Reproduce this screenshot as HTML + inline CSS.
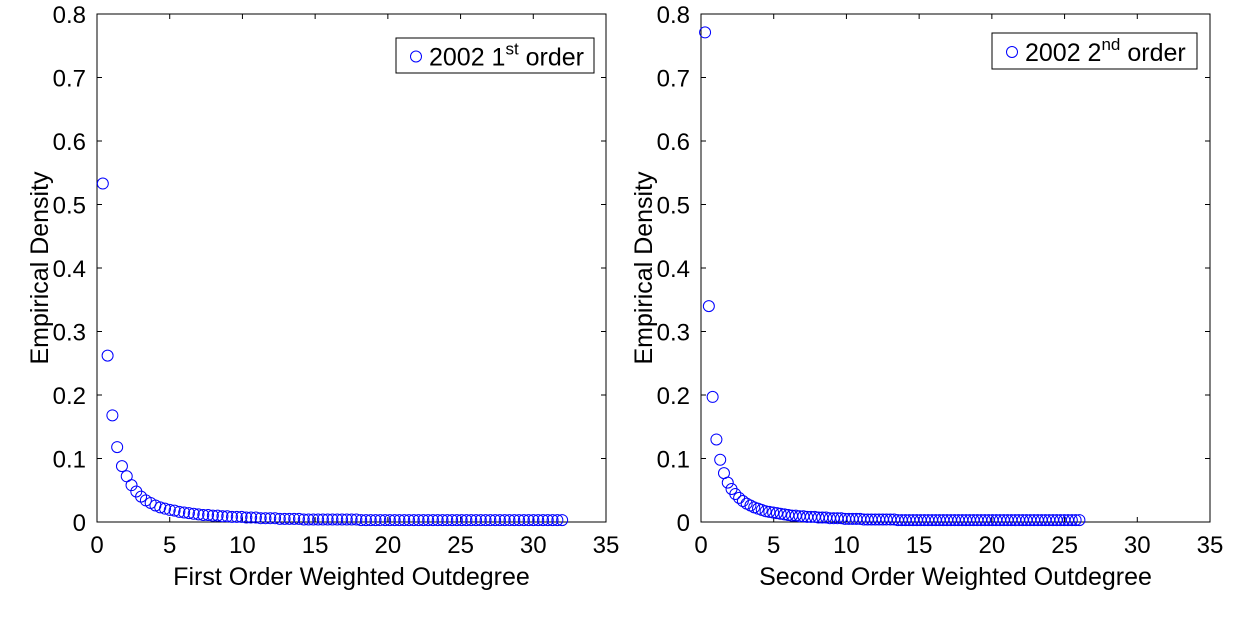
<!DOCTYPE html>
<html><head><meta charset="utf-8"><style>
body{margin:0;background:#fff;width:1254px;height:614px;overflow:hidden}
text{font-family:"Liberation Sans",Arial,sans-serif;fill:#000}
</style></head><body>
<svg id="svg" width="1254" height="614" xmlns="http://www.w3.org/2000/svg"></svg>
<script>
const xTicks=[0,5,10,15,20,25,30,35];
const yTicks=[0,0.1,0.2,0.3,0.4,0.5,0.6,0.7,0.8];
const yTickLabels=["0","0.1","0.2","0.3","0.4","0.5","0.6","0.7","0.8"];
const leftStart=0.4, leftStep=0.329;
const leftValues=[0.533,0.262,0.168,0.118,0.088,0.072,0.058,0.048,0.040,0.034,0.030,0.026,0.023,0.021,0.019,0.018,0.016,0.015,0.014,0.013,0.012,0.011,0.011,0.010,0.010,0.009,0.009,0.008,0.008,0.008,0.007,0.007,0.007,0.006,0.006,0.006,0.006,0.005,0.005,0.005,0.005,0.005,0.004,0.004,0.004,0.004,0.004,0.004,0.004,0.004,0.004,0.004,0.004,0.004,0.003,0.003,0.003,0.003,0.003,0.003,0.003,0.003,0.003,0.003,0.003,0.003,0.003,0.003,0.003,0.003,0.003,0.003,0.003,0.003,0.003,0.003,0.003,0.003,0.003,0.003,0.003,0.003,0.003,0.003,0.003,0.003,0.003,0.003,0.003,0.003,0.003,0.003,0.003,0.003,0.003,0.003,0.003];
const rightStart=0.28, rightStep=0.26;
const rightValues=[0.771,0.340,0.197,0.130,0.098,0.077,0.062,0.052,0.044,0.038,0.033,0.029,0.026,0.023,0.021,0.019,0.017,0.016,0.015,0.014,0.013,0.012,0.011,0.010,0.010,0.009,0.009,0.008,0.008,0.008,0.007,0.007,0.007,0.006,0.006,0.006,0.006,0.005,0.005,0.005,0.005,0.005,0.004,0.004,0.004,0.004,0.004,0.004,0.004,0.004,0.004,0.003,0.003,0.003,0.003,0.003,0.003,0.003,0.003,0.003,0.003,0.003,0.003,0.003,0.003,0.003,0.003,0.003,0.003,0.003,0.003,0.003,0.003,0.003,0.003,0.003,0.003,0.003,0.003,0.003,0.003,0.003,0.003,0.003,0.003,0.003,0.003,0.003,0.003,0.003,0.003,0.003,0.003,0.003,0.003,0.003,0.003,0.003,0.003,0.003];
const svg=document.getElementById('svg');
const NS='http://www.w3.org/2000/svg';
function mk(tag,attrs,parent){const e=document.createElementNS(NS,tag);for(const k in attrs)e.setAttribute(k,attrs[k]);(parent||svg).appendChild(e);return e;}
function panel(x0,x1,y0,y1,xlabel,start,step,vals,legend,name){
  const g=mk('g',{});
  
  
  const sx=v=>x0+(v/35)*(x1-x0), sy=v=>y1-(v/0.8)*(y1-y0);
  const box=mk('rect',{x:x0,y:y0,width:x1-x0,height:y1-y0,fill:'none',stroke:'#000','stroke-width':1},g);
  
  
  xTicks.forEach(t=>{
    const X=sx(t);
    mk('line',{x1:X,x2:X,y1:y1,y2:y1-5,stroke:'#000'},g);
    mk('line',{x1:X,x2:X,y1:y0,y2:y0+5,stroke:'#000'},g);
    const tx=mk('text',{x:X,y:y1+31,'font-size':24,'text-anchor':'middle'},g);
    tx.textContent=t;
    
    
  });
  yTicks.forEach((t,i)=>{
    const Y=sy(t);
    mk('line',{x1:x0,x2:x0+5,y1:Y,y2:Y,stroke:'#000'},g);
    mk('line',{x1:x1,x2:x1-5,y1:Y,y2:Y,stroke:'#000'},g);
    const tx=mk('text',{x:x0-11,y:Y+9,'font-size':24,'text-anchor':'end'},g);
    tx.textContent=yTickLabels[i];
    
    
  });
  const xl=mk('text',{x:(x0+x1)/2,y:y1+63,'font-size':25,'text-anchor':'middle'},g);
  xl.textContent=xlabel;
  
  
  const yl=mk('text',{x:0,y:0,'font-size':25,'text-anchor':'middle',transform:`translate(${x0-49},${(y0+y1)/2}) rotate(-90)`},g);
  yl.textContent='Empirical Density';
  
  
  vals.forEach((v,i)=>{
    const c=mk('circle',{cx:sx(start+i*step),cy:sy(v),r:5.5,fill:'none',stroke:'#0000ff','stroke-width':1},g);
    
    
  });
  const lg=mk('g',{},g);
  
  
  mk('rect',{x:legend.x,y:legend.y,width:legend.w,height:legend.h,fill:'#fff',stroke:'#000'},lg);
  mk('circle',{cx:legend.x+20,cy:legend.y+legend.h/2+1,r:5.5,fill:'none',stroke:'#0000ff'},lg);
  const lt=mk('text',{x:legend.x+33,y:legend.y+legend.h/2+10,'font-size':25},lg);
  lt.innerHTML=`2002 ${legend.n}<tspan dy="-11" font-size="17">${legend.sup}</tspan><tspan dy="11"> order</tspan>`;
}
panel(97,606,14,522,'First Order Weighted Outdegree',leftStart,leftStep,leftValues,{x:396,y:38,w:198,h:35,n:'1',sup:'st'},'left-panel');
panel(701,1210,14,522,'Second Order Weighted Outdegree',rightStart,rightStep,rightValues,{x:992,y:33,w:205,h:36,n:'2',sup:'nd'},'right-panel');
</script>
</body></html>
